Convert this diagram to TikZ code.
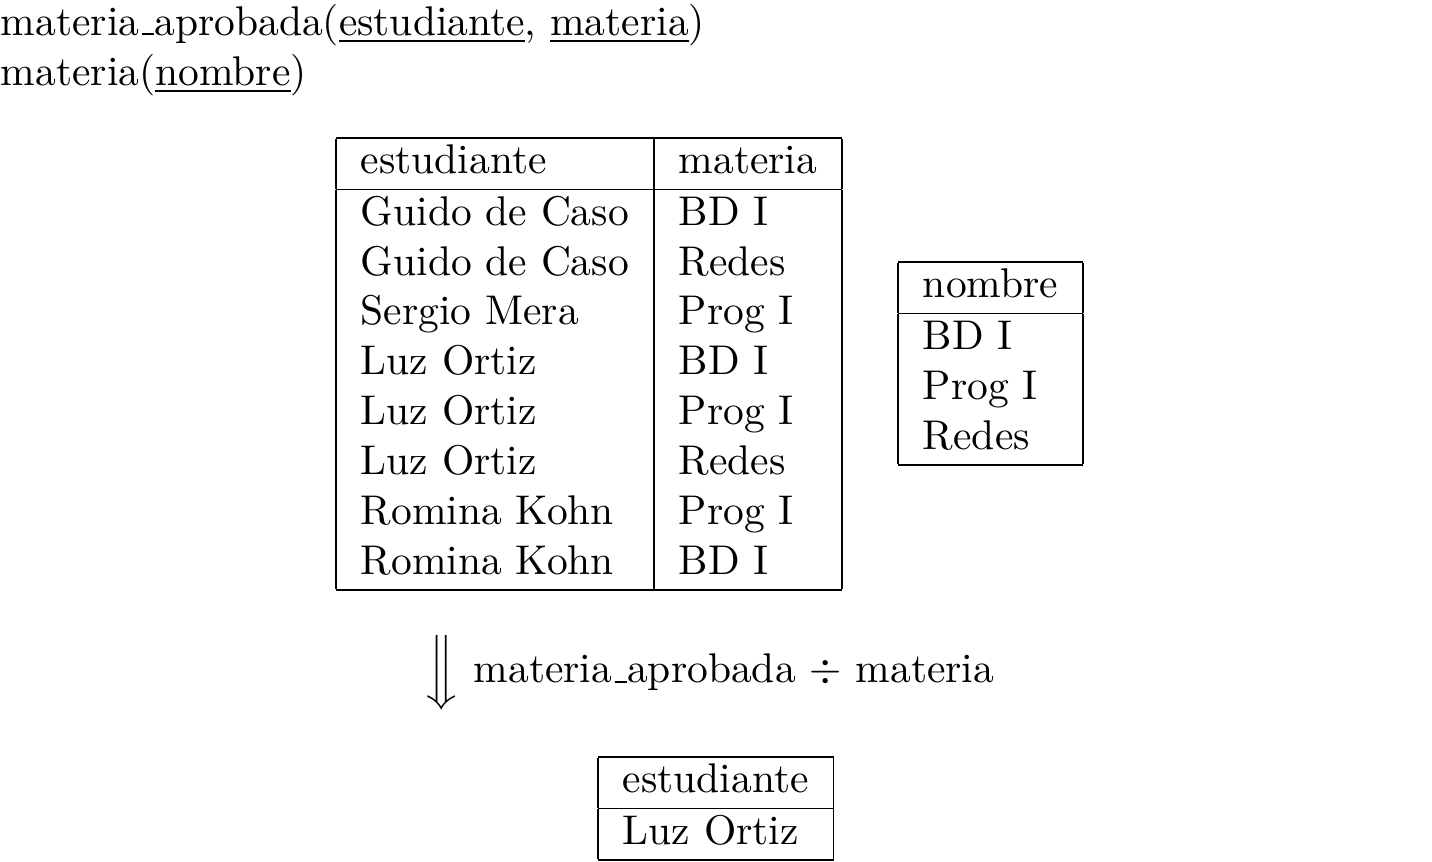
\documentclass[tikz,border=0pt]{standalone}
\usepackage{amsmath}
\newcommand\myus{\leavevmode\kern.06em\vbox{\hrule width.3em}}
\begin{document}
\begin{tikzpicture}[x=1pt,y=1pt,
  tbl/.style={inner sep=0pt, anchor=north west},
  txt/.style={inner sep=0pt, anchor=base west}]
\useasboundingbox (0,0) rectangle (344.9,-207.4);
\node[txt] (h1) at (0,-8.43) {materia\myus aprobada(\underline{estudiante}, \underline{materia})};
\node[txt] (h2) at (0,-20.47) {materia(\underline{nombre})};
\node[tbl] (t1) at (80.7,-32.87) {\begin{tabular}{|l|l|}\hline
estudiante & materia\\\hline
Guido de Caso & BD I\\
Guido de Caso & Redes\\
Sergio Mera & Prog I\\
Luz Ortiz & BD I\\
Luz Ortiz & Prog I\\
Luz Ortiz & Redes\\
Romina Kohn & Prog I\\
Romina Kohn & BD I\\\hline
\end{tabular}};
\node[tbl] (t2) at (216.1,-62.74) {\begin{tabular}{|l|}\hline
nombre\\\hline
BD I\\
Prog I\\
Redes\\\hline
\end{tabular}};
\node[inner sep=0pt] (arr) at (106.3,-162.0) {$\Big\Downarrow$};
\node[txt] (op) at (113.9,-164.4) {materia\myus aprobada $\div$ materia};
\node[tbl] (t3) at (143.8,-181.96) {\begin{tabular}{|l|}\hline
estudiante\\\hline
Luz Ortiz\\\hline
\end{tabular}};
\end{tikzpicture}
\end{document}
